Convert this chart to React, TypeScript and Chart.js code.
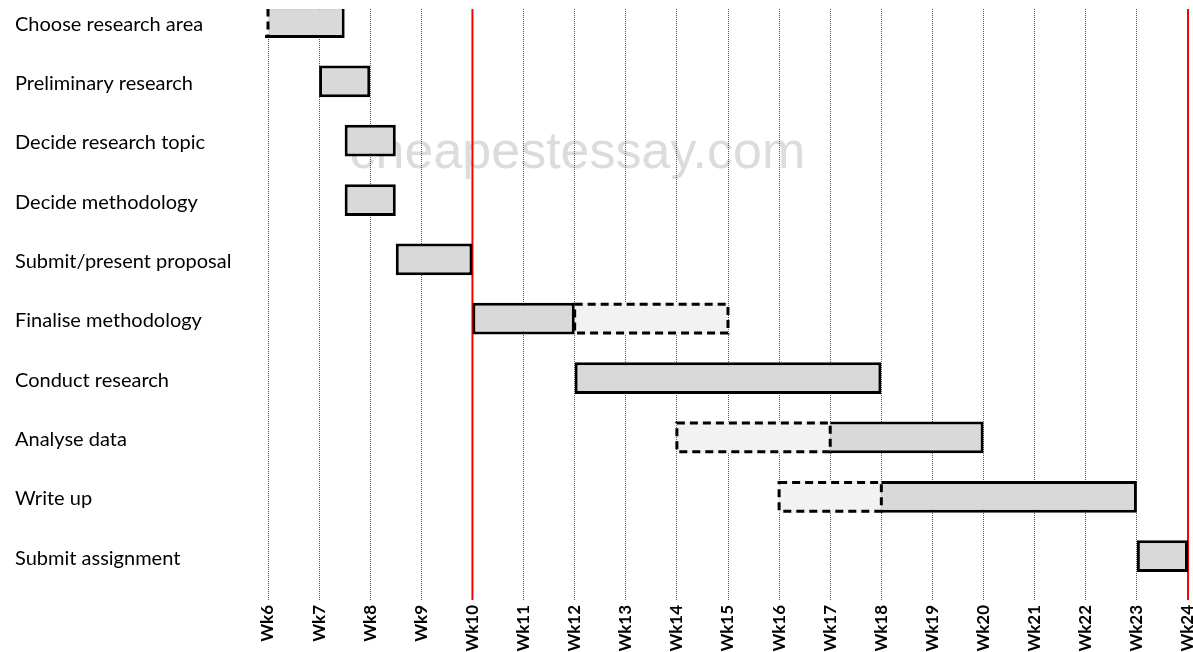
import React, { useEffect, useRef } from "react";
import { Chart, registerables } from "chart.js";

Chart.register(...registerables);

// ---- Data ----
const tasks = [
  "Choose research area",
  "Preliminary research",
  "Decide research topic",
  "Decide methodology",
  "Submit/present proposal",
  "Finalise methodology",
  "Conduct research",
  "Analyse data",
  "Write up",
  "Submit assignment",
];
const actualStart = [6, 7, 7.5, 7.5, 8.5, 10, 12, 17, 18, 23];
const actualEnd = [7.5, 8, 8.5, 8.5, 10, 12, 18, 20, 23, 24];
const plannedStart: (number | null)[] = [5, null, null, null, null, 12, null, 14, 16, null];
const plannedEnd: (number | null)[] = [6, null, null, null, null, 15, null, 17, 18, null];
const weekLabels = [
  "Wk6", "Wk7", "Wk8", "Wk9", "Wk10", "Wk11", "Wk12", "Wk13", "Wk14", "Wk15",
  "Wk16", "Wk17", "Wk18", "Wk19", "Wk20", "Wk21", "Wk22", "Wk23", "Wk24",
];
const firstWeek = 6;
const lastWeek = 24;
const milestoneWeeks = [10, 24];
const watermarkText = "cheapestessay.com";

export default function App() {
  const canvasRef = useRef<HTMLCanvasElement | null>(null);

  useEffect(() => {
    const canvas = canvasRef.current;
    if (!canvas) return;

    const actualData = tasks.map((_, i) => ({ x: [actualStart[i], actualEnd[i]], y: i }));
    const plannedData = tasks
      .map((_, i) =>
        plannedStart[i] !== null && plannedEnd[i] !== null
          ? { x: [plannedStart[i] as number, plannedEnd[i] as number], y: i }
          : null
      )
      .filter((d) => d !== null) as { x: number[]; y: number }[];

    const watermarkPlugin = {
      id: "watermark",
      beforeDraw(chart: any) {
        const { ctx } = chart;
        ctx.save();
        ctx.font = '52px "Liberation Sans", Arial, sans-serif';
        ctx.fillStyle = "#dcdcdc";
        ctx.textAlign = "center";
        ctx.textBaseline = "alphabetic";
        ctx.fillText(watermarkText, chart.width * 0.484, 168);
        ctx.restore();
      },
    };

    const milestonePlugin = {
      id: "milestones",
      beforeDatasetsDraw(chart: any) {
        const { ctx, chartArea, scales } = chart;
        ctx.save();
        ctx.strokeStyle = "#ff0000";
        ctx.lineWidth = 2;
        milestoneWeeks.forEach((w) => {
          const x = scales.x.getPixelForValue(w);
          ctx.beginPath();
          ctx.moveTo(x, chartArea.top);
          ctx.lineTo(x, chartArea.bottom);
          ctx.stroke();
        });
        ctx.restore();
      },
    };

    const dashedPlugin = {
      id: "dashedBars",
      afterDatasetsDraw(chart: any) {
        const { ctx, chartArea } = chart;
        const meta = chart.getDatasetMeta(1);
        ctx.save();
        ctx.beginPath();
        ctx.rect(chartArea.left - 3, chartArea.top, chartArea.right - chartArea.left + 6, chartArea.bottom - chartArea.top);
        ctx.clip();
        ctx.setLineDash([8, 5]);
        ctx.lineWidth = 3;
        ctx.strokeStyle = "#000000";
        meta.data.forEach((el: any) => {
          const { x, y, base, height } = el.getProps(["x", "y", "base", "height"], true);
          const left = Math.min(x, base);
          const right = Math.max(x, base);
          const top = y - height / 2 + 1.5;
          const bottom = y + height / 2 - 1.5;
          ctx.strokeRect(left, top, right - left, bottom - top);
        });
        ctx.restore();
      },
    };

    const chart = new Chart(canvas, {
      type: "bar",
      data: {
        datasets: [
          {
            label: "Actual",
            data: actualData as any,
            backgroundColor: "#d9d9d9",
            borderColor: "#000000",
            borderWidth: 3,
            borderSkipped: ((c: any) =>
              plannedEnd[c.dataIndex] !== null && plannedEnd[c.dataIndex] === actualStart[c.dataIndex]
                ? "left"
                : false) as any,
            grouped: false,
            clip: 0,
            categoryPercentage: 1,
            barPercentage: 0.535,
          } as any,
          {
            label: "Planned",
            data: plannedData as any,
            backgroundColor: "#f2f2f2",
            borderWidth: 0,
            grouped: false,
            clip: 0,
            categoryPercentage: 1,
            barPercentage: 0.535,
          } as any,
        ],
      },
      options: {
        indexAxis: "y",
        responsive: false,
        animation: false,
        layout: { padding: { left: 15, top: 9, right: 5, bottom: 0 } },
        plugins: {
          legend: { display: false },
          tooltip: { enabled: false },
        },
        scales: {
          x: {
            type: "linear",
            position: "bottom",
            min: firstWeek,
            max: lastWeek,
            offset: false,
            grid: { color: "#505050", lineWidth: 1, drawTicks: false },
            border: { display: false, dash: [1, 1] },
            ticks: {
              stepSize: 1,
              autoSkip: false,
              maxRotation: 90,
              minRotation: 90,
              padding: 5,
              color: "#000000",
              font: { family: "Lato", size: 17, weight: "bold" },
              callback: (v: any) => weekLabels[Number(v) - firstWeek] ?? "",
            },
            afterFit: (s: any) => {
              s.height = 52;
              s.paddingLeft = 0;
              s.paddingRight = 0;
            },
          },
          y: {
            type: "linear",
            reverse: true,
            offset: false,
            min: -0.22,
            max: 9.74,
            grid: { display: false, offset: false },
            border: { display: false },
            afterBuildTicks: (s: any) => {
              s.ticks = tasks.map((_, i) => ({ value: i }));
            },
            ticks: {
              autoSkip: false,
              crossAlign: "far",
              labelOffset: 2,
              color: "#000000",
              font: { family: "Lato", size: 20 },
              callback: (v: any) => tasks[Number(v)] ?? "",
            },
            afterFit: (s: any) => {
              s.width = 253;
              s.paddingTop = 0;
              s.paddingBottom = 0;
            },
          },
        },
      } as any,
      plugins: [watermarkPlugin, milestonePlugin, dashedPlugin],
    });

    return () => chart.destroy();
  }, []);

  return (
    <div style={{ position: "absolute", left: 0, top: 0, width: 1193, height: 652, background: "#ffffff" }}>
      <canvas ref={canvasRef} width={1193} height={652} style={{ display: "block" }} />
    </div>
  );
}
